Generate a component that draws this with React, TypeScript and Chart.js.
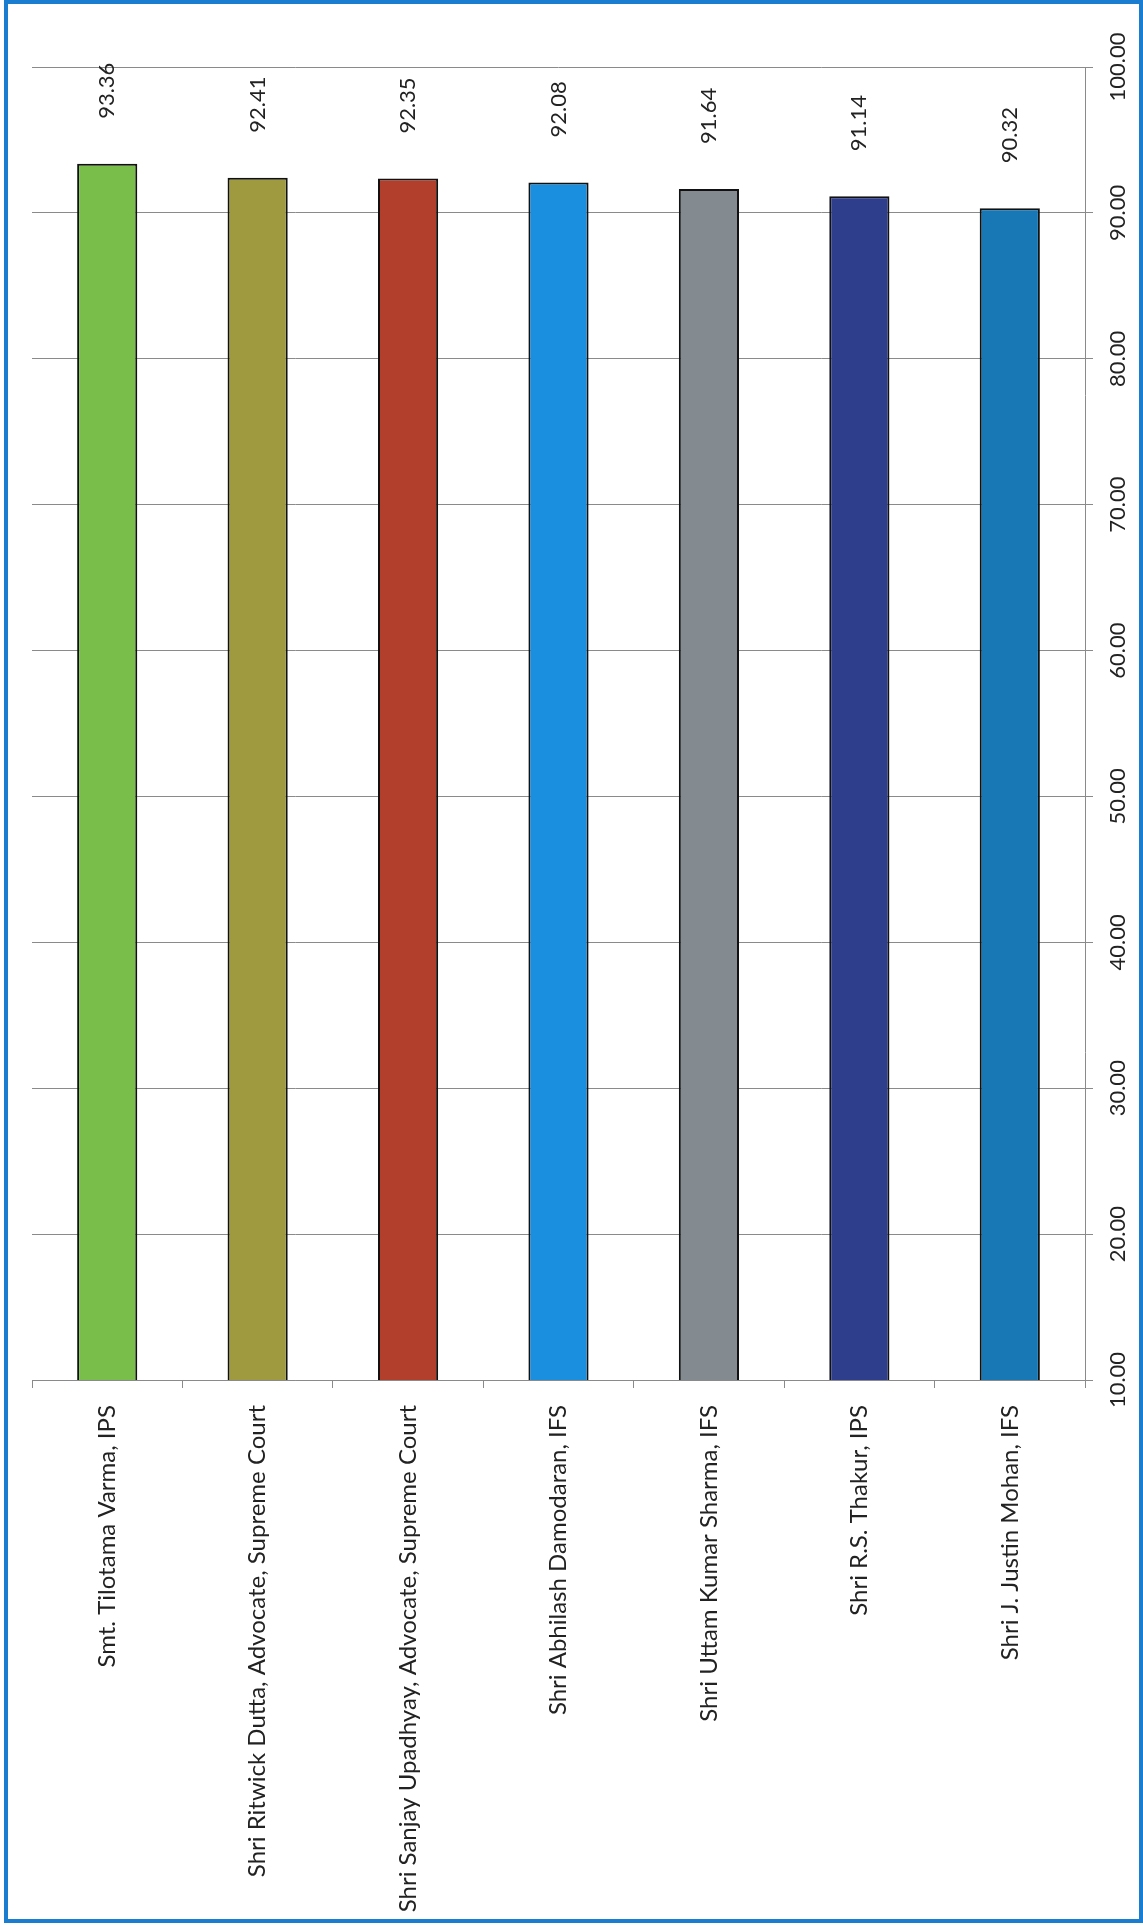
import React, { useEffect, useRef } from "react";
import { Chart, registerables } from "chart.js";

Chart.register(...registerables);

const categories = [
  "Smt. Tilotama Varma, IPS",
  "Shri Ritwick Dutta, Advocate, Supreme Court",
  "Shri Sanjay Upadhyay, Advocate, Supreme Court",
  "Shri Abhilash Damodaran, IFS",
  "Shri Uttam Kumar Sharma, IFS",
  "Shri R.S. Thakur, IPS",
  "Shri J. Justin Mohan, IFS",
];

const scores = [93.36, 92.41, 92.35, 92.08, 91.64, 91.14, 90.32];

const barColors = [
  "#79bd4a",
  "#9f9a3f",
  "#b23f2c",
  "#1b8fdf",
  "#838a90",
  "#2f3e8c",
  "#1778b5",
];

const valueTicks = [10, 20, 30, 40, 50, 60, 70, 80, 90, 100];

const FONT = "Lato, 'Open Sans', sans-serif";
const TEXT = "#222222";
const GRID = "#8a8a8a";

const valueLabels = {
  id: "valueLabels",
  afterDatasetsDraw(chart: any) {
    const ctx = chart.ctx;
    const meta = chart.getDatasetMeta(0);
    ctx.save();
    ctx.font = `22px ${FONT}`;
    ctx.fillStyle = TEXT;
    meta.data.forEach((bar: any, i: number) => {
      const { x, y } = bar.getProps(["x", "y"], true);
      ctx.save();
      ctx.translate(x, y - 45);
      ctx.rotate(-Math.PI / 2);
      ctx.textAlign = "left";
      ctx.textBaseline = "middle";
      ctx.fillText(scores[i].toFixed(2), 0, 0);
      ctx.restore();
    });
    ctx.restore();
  },
};

export default function App() {
  const ref = useRef<HTMLCanvasElement | null>(null);

  useEffect(() => {
    if (!ref.current) return;
    Chart.defaults.font.family = FONT;
    const chart = new Chart(ref.current, {
      type: "bar",
      data: {
        labels: categories,
        datasets: [
          {
            data: scores,
            backgroundColor: barColors,
            borderColor: "#111111",
            borderWidth: 2,
            barPercentage: 0.4,
            categoryPercentage: 1,
          },
        ],
      },
      options: {
        animation: false,
        responsive: false,
        maintainAspectRatio: false,
        layout: { padding: { left: 32, top: 67, right: 0, bottom: 0 } },
        plugins: {
          legend: { display: false },
          tooltip: { enabled: false },
          title: { display: false },
        },
        scales: {
          x: {
            offset: true,
            grid: {
              display: true,
              offset: true,
              drawOnChartArea: false,
              drawTicks: true,
              tickLength: 8,
              color: GRID,
              lineWidth: 1,
            },
            border: { display: true, color: GRID, width: 1 },
            ticks: {
              autoSkip: false,
              minRotation: 90,
              maxRotation: 90,
              padding: 17,
              color: TEXT,
              font: { size: 24, family: FONT },
            },
            afterFit: (s: any) => {
              s.height = 545;
            },
          },
          y: {
            position: "right",
            min: 10,
            max: 100,
            afterBuildTicks: (s: any) => {
              s.ticks = valueTicks.map((v) => ({ value: v }));
            },
            grid: {
              color: GRID,
              lineWidth: 1,
              tickLength: 8,
              drawTicks: true,
            },
            border: { display: true, color: GRID, width: 1 },
            ticks: {
              minRotation: 90,
              maxRotation: 90,
              crossAlign: "center",
              padding: -10,
              color: TEXT,
              font: { size: 22, family: FONT },
              callback: (v: any) => Number(v).toFixed(2),
            },
            afterFit: (s: any) => {
              s.width = 58;
            },
          },
        },
      },
      plugins: [valueLabels],
    } as any);
    return () => chart.destroy();
  }, []);

  return (
    <div
      style={{
        position: "absolute",
        left: 0,
        top: 0,
        width: 1143,
        height: 1925,
        background: "#ffffff",
        overflow: "hidden",
      }}
    >
      <canvas
        ref={ref}
        width={1143}
        height={1925}
        style={{ position: "absolute", left: 0, top: 0, width: 1143, height: 1925 }}
      />
      <div
        style={{
          position: "absolute",
          left: 4,
          top: 0,
          width: 1139,
          height: 1923,
          border: "4px solid #1b7dd0",
          boxSizing: "border-box",
          pointerEvents: "none",
        }}
      />
    </div>
  );
}
